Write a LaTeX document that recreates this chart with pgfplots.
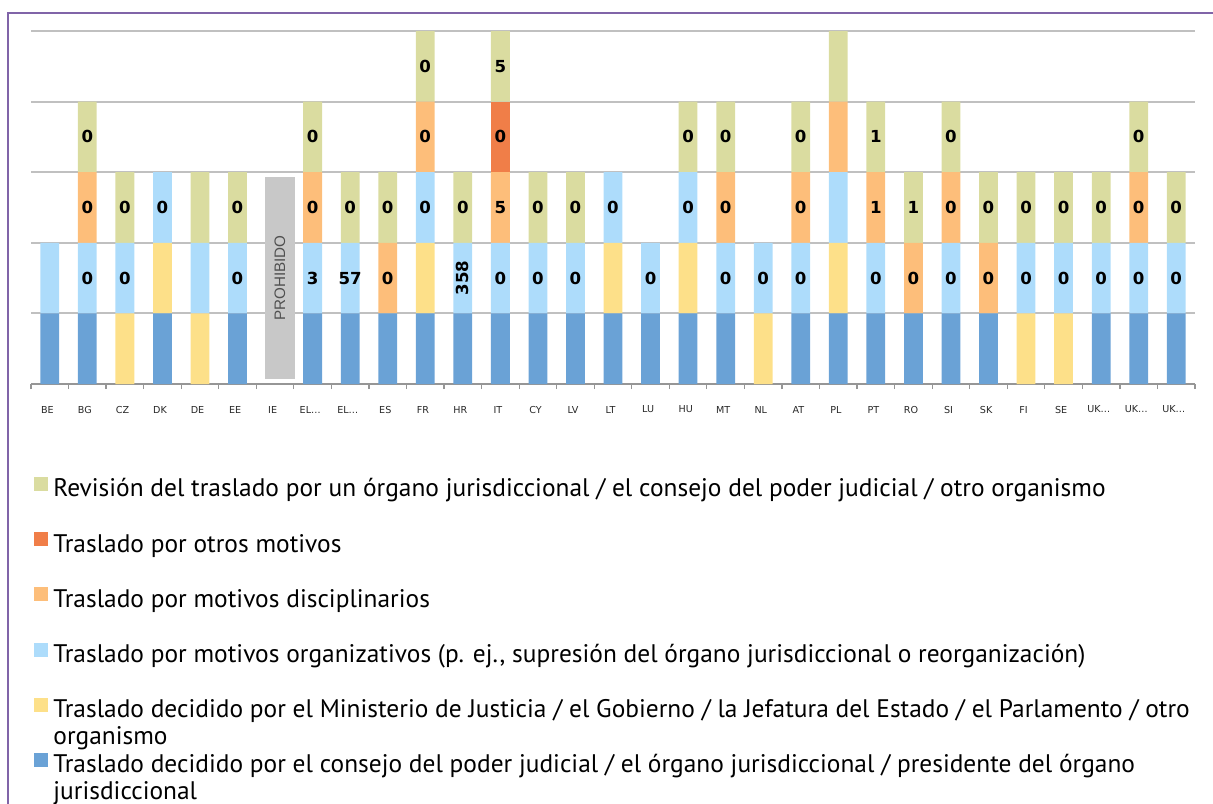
\documentclass[border=0pt]{standalone}
\usepackage{pgfplots}
\pgfplotsset{compat=1.18}
\usepackage{pgfplotstable}
\usepackage{fontspec}
\setmainfont{PT Sans}
\newfontfamily\dejavu{DejaVu Sans}
\newfontfamily\libsans{Liberation Sans}
\definecolor{cA}{RGB}{106,162,214}
\definecolor{cB}{RGB}{253,224,137}
\definecolor{cC}{RGB}{173,220,251}
\definecolor{cD}{RGB}{253,190,122}
\definecolor{cE}{RGB}{240,126,72}
\definecolor{cF}{RGB}{218,220,160}
\definecolor{gridgray}{RGB}{192,192,192}
\definecolor{axisgray}{RGB}{150,150,150}
\definecolor{boxgray}{RGB}{200,200,200}
\definecolor{boxtext}{RGB}{80,80,80}
\definecolor{ticktext}{RGB}{40,40,40}
\definecolor{framecol}{RGB}{128,100,168}
\newcommand\rot[1]{\rotatebox{90}{#1}}

% one row per country; a..f = segments bottom to top, lc..lf = labels
\pgfplotstableread[col sep=comma]{
x,a,b,c,d,e,f,lc,ld,le,lf
0,1,0,1,0,0,0,,,,
1,1,0,1,1,0,1,0,0,,0
2,0,1,1,0,0,1,0,,,0
3,1,1,1,0,0,0,0,,,
4,0,1,1,0,0,1,,,,
5,1,0,1,0,0,1,0,,,0
6,0,0,0,0,0,0,,,,
7,1,0,1,1,0,1,3,0,,0
8,1,0,1,0,0,1,57,,,0
9,1,0,0,1,0,1,,0,,0
10,1,1,1,1,0,1,0,0,,0
11,1,0,1,0,0,1,\rot{358},,,0
12,1,0,1,1,1,1,0,5,0,5
13,1,0,1,0,0,1,0,,,0
14,1,0,1,0,0,1,0,,,0
15,1,1,1,0,0,0,0,,,
16,1,0,1,0,0,0,0,,,
17,1,1,1,0,0,1,0,,,0
18,1,0,1,1,0,1,0,0,,0
19,0,1,1,0,0,0,0,,,
20,1,0,1,1,0,1,0,0,,0
21,1,1,1,1,0,1,,,,
22,1,0,1,1,0,1,0,1,,1
23,1,0,0,1,0,1,,0,,1
24,1,0,1,1,0,1,0,0,,0
25,1,0,0,1,0,1,,0,,0
26,0,1,1,0,0,1,0,,,0
27,0,1,1,0,0,1,0,,,0
28,1,0,1,0,0,1,0,,,0
29,1,0,1,1,0,1,0,0,,0
30,1,0,1,0,0,1,0,,,0
}\transfers

\begin{document}
\begin{tikzpicture}
\useasboundingbox (0,0) rectangle (606.5pt,-401.5pt);
\begin{axis}[
  at={(15.5pt,-192pt)}, anchor=south west,
  scale only axis, width=582pt, height=176.5pt,
  ybar stacked, bar width=0.5,
  xmin=-0.5, xmax=30.5, ymin=0, ymax=5,
  axis x line*=bottom, axis y line*=left,
  y axis line style={draw=none},
  x axis line style={draw=axisgray, line width=1pt, -},
  ytick={1,2,3,4,5}, yticklabels={},
  ymajorgrids, grid style={gridgray, line width=1pt},
  major y tick style={draw=none},
  xtick={0,...,30},
  xticklabels={BE,BG,CZ,DK,DE,EE,IE,EL…,EL…,ES,FR,HR,IT,CY,LV,LT,LU,HU,MT,NL,AT,PL,PT,RO,SI,SK,FI,SE,UK…,UK…,UK…},
  major x tick style={draw=none},
  minor xtick={-0.5,0.5,...,30.5},
  minor x tick style={draw=axisgray, line width=0.6pt},
  minor tick length=2.5pt, tick align=outside,
  xticklabel style={font=\dejavu\fontsize{4.8}{6}\selectfont, text=ticktext, anchor=center, inner sep=0pt, xshift=-1.2pt, yshift=-8.5pt},
  every node near coord/.append style={font=\dejavu\bfseries\fontsize{8.3}{10}\selectfont, anchor=center, inner sep=0pt, text=black},
  lab/.style={nodes near coords, point meta=explicit symbolic},
  sq/.style={legend image code/.code={\fill[##1] (0pt,0pt) rectangle (7pt,7pt);}},
  reverse legend, legend cell align=left,
  legend style={at={(axis description cs:0.0026,-0.262)}, anchor=north west,
    draw=none, fill=none, inner sep=0pt, row sep=15.1pt, column sep=2.5pt,
    font=\fontsize{12.7}{13.5}\selectfont,
    nodes={inner sep=0pt, text height=8.5pt, text depth=2.5pt}},
]
\addplot[fill=cA, draw=none, sq] table[x=x, y=a] {\transfers};
\addlegendentry{\parbox[t]{580pt}{Traslado decidido por el consejo del poder judicial / el órgano jurisdiccional / presidente del órgano\\jurisdiccional}}
\addplot[fill=cB, draw=none, sq] table[x=x, y=b] {\transfers};
\addlegendentry{\parbox[t]{580pt}{Traslado decidido por el Ministerio de Justicia / el Gobierno / la Jefatura del Estado / el Parlamento / otro\\organismo}}
\addplot[fill=cC, draw=none, sq, lab] table[x=x, y=c, meta=lc] {\transfers};
\addlegendentry{Traslado por motivos organizativos (p. ej., supresión del órgano jurisdiccional o reorganización)}
\addplot[fill=cD, draw=none, sq, lab] table[x=x, y=d, meta=ld] {\transfers};
\addlegendentry{Traslado por motivos disciplinarios}
\addplot[fill=cE, draw=none, sq, lab] table[x=x, y=e, meta=le] {\transfers};
\addlegendentry{Traslado por otros motivos}
\addplot[fill=cF, draw=none, sq, lab] table[x=x, y=f, meta=lf] {\transfers};
\addlegendentry{Revisión del traslado por un órgano jurisdiccional / el consejo del poder judicial / otro organismo}
\node[fill=boxgray, minimum width=101pt, minimum height=15pt, inner sep=0pt, rotate=90,
  text=boxtext, font=\libsans\fontsize{7.6}{9}\selectfont] at (axis cs:6.13,1.5) {PROHIBIDO};
\end{axis}
\draw[framecol, line width=1pt] (4pt,-420pt) -- (4pt,-6.5pt) -- (620pt,-6.5pt);
\end{tikzpicture}
\end{document}
